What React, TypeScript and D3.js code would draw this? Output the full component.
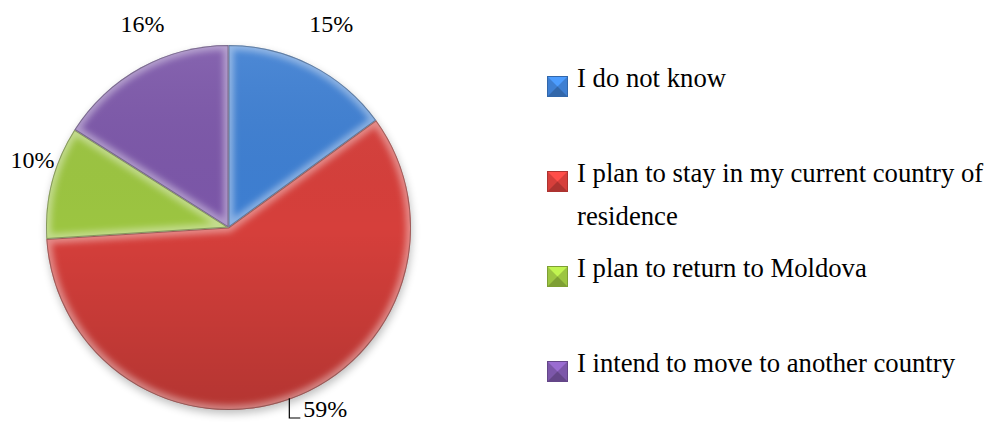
import React, { useEffect } from "react";
import * as d3 from "d3";

const categories = [
  "I do not know",
  "I plan to stay in my current country of residence",
  "I plan to return to Moldova",
  "I intend to move to another country",
];
const values = [15, 59, 10, 16];
const valueLabels = ["15%", "59%", "10%", "16%"];
const colors = ["#3e7fd2", "#d63f3b", "#9cc541", "#7c57a9"];

const W = 989;
const H = 422;
const cx = 228.5;
const cy = 227.5;
const R = 182.5;

function wrap(text: string, maxChars: number): string[] {
  const words = text.split(" ");
  const lines: string[] = [];
  let cur = "";
  for (const w of words) {
    const t = cur ? cur + " " + w : w;
    if (t.length > maxChars && cur) {
      lines.push(cur);
      cur = w;
    } else cur = t;
  }
  if (cur) lines.push(cur);
  return lines;
}

const FONT = '"Liberation Serif", Tinos, "Times New Roman", FreeSerif, Georgia, serif';

export default function App() {
  useEffect(() => {
    document.body.style.margin = "0";
  }, []);

  const pie = d3.pie<number>().sort(null).value((d) => d)(values);
  const arc = d3.arc<d3.PieArcDatum<number>>().innerRadius(0).outerRadius(R);
  const labelArc = d3.arc<d3.PieArcDatum<number>>().innerRadius(222).outerRadius(222);
  // small layout nudges to mimic the spreadsheet's label placement
  const nudges: [number, number][] = [[2, -6], [0, 0], [19, -12], [21, -9]];

  return (
    <svg width={W} height={H} style={{ display: "block" }}>
      <style>{`text { font-family: ${FONT} !important; }`}</style>
      <defs>
        <filter id="blur6" x="-20%" y="-20%" width="140%" height="140%">
          <feGaussianBlur stdDeviation="3" />
        </filter>
        <filter id="shadow" x="-20%" y="-20%" width="140%" height="140%">
          <feGaussianBlur stdDeviation="4" />
        </filter>
        <linearGradient id="shade" x1="0" y1="0" x2="0" y2="1">
          <stop offset="0" stopColor="#fff" stopOpacity="0.08" />
          <stop offset="0.5" stopColor="#000" stopOpacity="0" />
          <stop offset="1" stopColor="#000" stopOpacity="0.16" />
        </linearGradient>
        {pie.map((p, i) => (
          <clipPath id={`clip${i}`} key={i}>
            <path d={arc(p) || ""} transform={`translate(${cx},${cy})`} />
          </clipPath>
        ))}
      </defs>

      {/* shadow */}
      <circle cx={cx + 1} cy={cy + 4} r={R} fill="#000" opacity={0.25} filter="url(#shadow)" />

      <g transform={`translate(${cx},${cy})`}>
        {pie.map((p, i) => (
          <path key={"f" + i} d={arc(p) || ""} fill={colors[i]} />
        ))}
        <circle r={R} fill="url(#shade)" />
      </g>
      {pie.map((p, i) => (
        <g key={"b" + i} clipPath={`url(#clip${i})`}>
          <path
            d={arc(p) || ""}
            transform={`translate(${cx},${cy})`}
            fill="none"
            stroke="#fff"
            strokeOpacity={0.4}
            strokeWidth={10}
            strokeLinejoin="round"
            filter="url(#blur6)"
          />
          <path
            d={arc(p) || ""}
            transform={`translate(${cx},${cy})`}
            fill="none"
            stroke="#000"
            strokeOpacity={0.3}
            strokeWidth={2}
          />
        </g>
      ))}

      {/* value labels */}
      {pie.map((p, i) => {
        if (i === 1) {
          const mid = (p.startAngle + p.endAngle) / 2;
          const x0 = cx + R * Math.sin(mid);
          const y0 = cy - R * Math.cos(mid);
          const yb = 418;
          return (
            <g key={"l" + i}>
              <path
                d={`M${x0 - 1},${y0 - 1} L${x0 - 1},${yb} L${x0 + 10},${yb}`}
                fill="none"
                stroke="#000"
                strokeWidth={1.2}
              />
              <text x={x0 + 13} y={yb - 1} fontSize={24} fill="#000" fontFamily={FONT} style={{ fontFamily: FONT }}>
                {valueLabels[i]}
              </text>
            </g>
          );
        }
        const [lx, ly] = labelArc.centroid(p);
        return (
          <text
            key={"l" + i}
            x={cx + lx + nudges[i][0]}
            y={cy + ly + nudges[i][1] + 8}
            fontSize={24}
            textAnchor="middle"
            fill="#000"
            fontFamily={FONT}
            style={{ fontFamily: FONT }}
          >
            {valueLabels[i]}
          </text>
        );
      })}

      {/* legend */}
      {categories.map((c, i) => {
        const base = 87 + i * 95;
        const lines = wrap(c, 40);
        const sx = 547;
        const sy = base - 11;
        const s = 21;
        const col = d3.color(colors[i])!;
        const light = col.brighter(0.6).toString();
        const dark = col.darker(0.6).toString();
        const mx = sx + s / 2;
        const my = sy + s / 2;
        return (
          <g key={"g" + i}>
            <rect x={sx} y={sy} width={s} height={s} fill={colors[i]} />
            <path d={`M${sx},${sy} L${sx + s},${sy} L${mx},${my} Z`} fill={light} />
            <path d={`M${sx},${sy + s} L${sx + s},${sy + s} L${mx},${my} Z`} fill={dark} />
            <rect x={sx + 0.5} y={sy + 0.5} width={s - 1} height={s - 1} fill="none" stroke={dark} strokeWidth={1} />
            {lines.map((ln, j) => (
              <text key={j} x={577} y={base + j * 43} fontSize={26.7} fill="#000" fontFamily={FONT} style={{ fontFamily: FONT }}>
                {ln}
              </text>
            ))}
          </g>
        );
      })}
    </svg>
  );
}
